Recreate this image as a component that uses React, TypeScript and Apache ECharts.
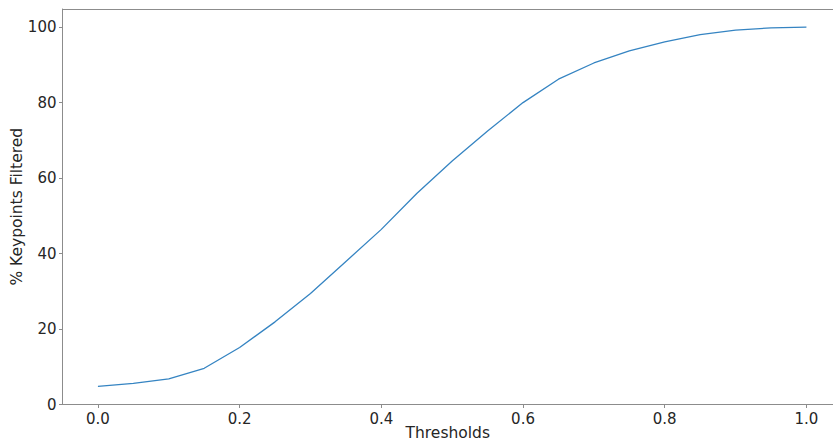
import React, { useEffect, useRef } from "react";
import * as echarts from "echarts";

const thresholds = [0, 0.05, 0.1, 0.15, 0.2, 0.25, 0.3, 0.35, 0.4, 0.45, 0.5, 0.55, 0.6, 0.65, 0.7, 0.75, 0.8, 0.85, 0.9, 0.95, 1.0];
const filteredPct = [4.8, 5.6, 6.8, 9.6, 15.1, 21.9, 29.4, 37.9, 46.4, 55.9, 64.5, 72.5, 80.0, 86.2, 90.5, 93.7, 96.1, 98.0, 99.2, 99.8, 100.0];
const xTicks = [0, 0.2, 0.4, 0.6, 0.8, 1.0];
const yTicks = [0, 20, 40, 60, 80, 100];

const FONT = "DejaVu Sans";
const TEXT = "#262626";
const SPINE = "#8c8c8c";

export default function App() {
  const ref = useRef<HTMLDivElement>(null);
  useEffect(() => {
    if (!ref.current) return;
    const chart = echarts.init(ref.current, null, { renderer: "svg" });
    chart.setOption({
      animation: false,
      backgroundColor: "#ffffff",
      grid: {
        left: 62.5,
        right: 0,
        top: 9,
        bottom: 40.5,
        show: false,
        containLabel: false,
        outerBoundsMode: "none",
      },
      xAxis: [
        {
          type: "value",
          position: "bottom",
          min: -0.05,
          max: 1.0375,
          name: "Thresholds",
          nameLocation: "middle",
          nameGap: 20.5,
          nameMoveOverlap: false,
          nameTextStyle: { fontFamily: FONT, fontSize: 15.5, color: TEXT },
          axisLine: { show: true, onZero: false, lineStyle: { color: SPINE, width: 1 } },
          axisTick: { show: true, length: 3.5, customValues: xTicks, lineStyle: { color: SPINE } },
          axisLabel: {
            customValues: xTicks,
            margin: 7,
            fontFamily: FONT,
            fontSize: 15,
            color: TEXT,
            formatter: (v: number) => v.toFixed(1),
          },
          splitLine: { show: false },
        },
        {
          type: "value",
          position: "top",
          min: -0.05,
          max: 1.0375,
          axisLine: { show: true, onZero: false, lineStyle: { color: SPINE, width: 1 } },
          axisTick: { show: false },
          axisLabel: { show: false },
          splitLine: { show: false },
        },
      ],
      yAxis: {
        type: "value",
        min: 0,
        max: 104.8,
        name: "% Keypoints Filtered",
        nameLocation: "middle",
        nameGap: 37.5,
        nameMoveOverlap: false,
        nameTextStyle: { fontFamily: FONT, fontSize: 15.5, color: TEXT },
        axisLine: { show: true, onZero: false, lineStyle: { color: SPINE, width: 1 } },
        axisTick: { show: true, length: 3.5, customValues: yTicks, lineStyle: { color: SPINE } },
        axisLabel: {
          customValues: yTicks,
          margin: 6,
          fontFamily: FONT,
          fontSize: 15,
          color: TEXT,
          formatter: (v: number) => String(Math.round(v)),
        },
        splitLine: { show: false },
      },
      series: [
        {
          type: "line",
          xAxisIndex: 0,
          data: thresholds.map((t, i) => [t, filteredPct[i]]),
          showSymbol: false,
          symbol: "none",
          lineStyle: { color: "#3584c2", width: 1.3 },
          clip: false,
        },
      ],
    });
    return () => chart.dispose();
  }, []);
  return (
    <div
      ref={ref}
      style={{ position: "fixed", left: 0, top: 0, width: 833, height: 445, background: "#fff" }}
    />
  );
}
